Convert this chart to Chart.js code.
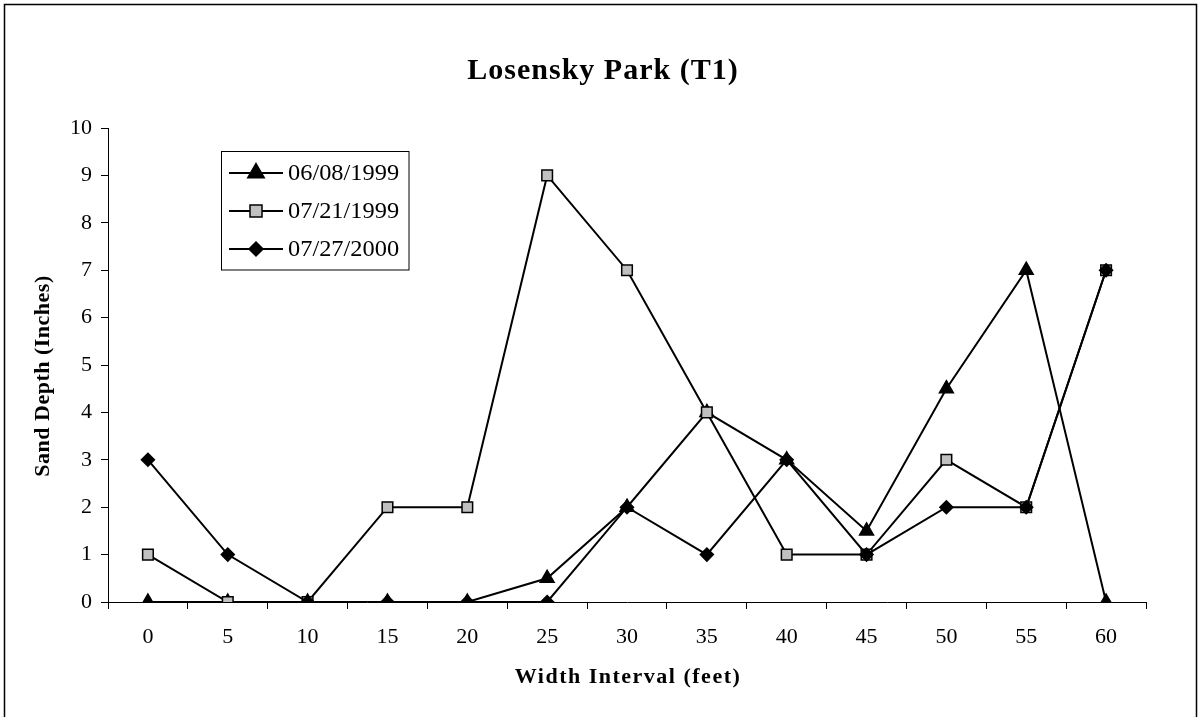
<!DOCTYPE html>
<html>
<head>
<meta charset="utf-8">
<script src="https://cdn.jsdelivr.net/npm/chart.js"></script>
<style>
  html, body { margin: 0; padding: 0; background: #fff; }
  #wrap { width: 1200px; height: 717px; }
</style>
</head>
<body>
<div id="wrap"><canvas id="chart" width="1200" height="717"></canvas></div>
<script>
// Данные с графика
const widths = ['0', '5', '10', '15', '20', '25', '30', '35', '40', '45', '50', '55', '60'];
const seriesNames = ['06/08/1999', '07/21/1999', '07/27/2000'];
const depth1 = [0, 0, 0, 0, 0, 0.5, 2, 4, 3, 1.5, 4.5, 7, 0];
const depth2 = [1, 0, 0, 2, 2, 9, 7, 4, 1, 1, 3, 2, 7];
const depth3 = [3, 1, 0, 0, 0, 0, 2, 1, 3, 1, 2, 2, 7];
const yMin = 0, yMax = 10, yStep = 1;

const titleText = 'Losensky Park (T1)';
const xTitle = 'Width Interval (feet)';
const yTitle = 'Sand Depth (Inches)';
const serif = '"Liberation Serif", "Times New Roman", serif';

const styles = [
  {pointStyle: 'triangle', radius: 8, legendRadius: 9.5, fill: '#000'},
  {pointStyle: 'rect', radius: 7.5, legendRadius: 8.5, fill: '#c0c0c0'},
  {pointStyle: 'rectRot', radius: 6.5, legendRadius: 7, fill: '#000'}
];

function makeSet(i, values) {
  const s = styles[i];
  return {
    label: seriesNames[i],
    data: values,
    borderColor: '#000',
    borderWidth: 2,
    pointStyle: s.pointStyle,
    pointRadius: s.radius,
    pointBackgroundColor: s.fill,
    pointBorderColor: '#000',
    pointBorderWidth: 1.5,
    tension: 0,
    order: 3 - i   // последний ряд сверху, как в Excel
  };
}

// Рамка, заголовки и легенда
const decor = {
  id: 'decor',
  afterDraw(chart) {
    const ctx = chart.ctx;
    ctx.save();
    ctx.strokeStyle = '#000';
    ctx.lineWidth = 1.5;
    ctx.strokeRect(4.5, 4.5, 1192, 730);   // нижний край уходит за кадр

    ctx.fillStyle = '#000';
    ctx.textAlign = 'center';
    ctx.textBaseline = 'middle';
    ctx.font = 'bold 30px ' + serif;
    ctx.letterSpacing = '1px';
    ctx.fillText(titleText, 603, 71);

    ctx.font = 'bold 22px ' + serif;
    ctx.letterSpacing = '1.5px';
    ctx.fillText(xTitle, 628, 677);

    ctx.letterSpacing = '0.5px';
    ctx.save();
    ctx.translate(43, 376);
    ctx.rotate(-Math.PI / 2);
    ctx.fillText(yTitle, 0, 0);
    ctx.restore();
    ctx.letterSpacing = '0px';

    // легенда
    ctx.lineWidth = 1;
    ctx.strokeRect(221.5, 151.5, 187.5, 118.5);
    ctx.font = '23px ' + serif;
    ctx.textAlign = 'left';
    chart.data.datasets.forEach((ds, i) => {
      const y = 173 + i * 38;
      ctx.strokeStyle = '#000';
      ctx.lineWidth = 2;
      ctx.beginPath();
      ctx.moveTo(229, y);
      ctx.lineTo(283, y);
      ctx.stroke();
      ctx.fillStyle = ds.pointBackgroundColor;
      ctx.lineWidth = ds.pointBorderWidth;
      Chart.helpers.drawPoint(ctx, {pointStyle: ds.pointStyle, radius: styles[i].legendRadius, rotation: 0, borderWidth: ds.pointBorderWidth}, 256, y);
      ctx.fillStyle = '#000';
      ctx.save();
      ctx.translate(288, y + 1);
      ctx.scale(1.06, 1);
      ctx.fillText(ds.label, 0, 0);
      ctx.restore();
    });
    ctx.restore();
  }
};

new Chart(document.getElementById('chart'), {
  type: 'line',
  data: {
    labels: widths,
    datasets: [makeSet(0, depth1), makeSet(1, depth2), makeSet(2, depth3)]
  },
  options: {
    responsive: false,
    animation: false,
    devicePixelRatio: 1,
    layout: {padding: {top: 128, right: 54, left: 0, bottom: 0}},
    plugins: {
      legend: {display: false},
      title: {display: false},
      tooltip: {enabled: false}
    },
    scales: {
      x: {
        type: 'category',
        offset: true,
        grid: {display: true, offset: true, drawOnChartArea: false, drawTicks: true, tickLength: 7, color: '#000'},
        border: {color: '#000', width: 1},
        ticks: {color: '#000', font: {family: serif, size: 22}, padding: 15, maxRotation: 0, autoSkip: false},
        afterFit: s => { s.height = 115; }
      },
      y: {
        min: yMin,
        max: yMax,
        grid: {display: true, drawOnChartArea: false, drawTicks: true, tickLength: 7, color: '#000'},
        border: {color: '#000', width: 1},
        ticks: {color: '#000', stepSize: yStep, font: {family: serif, size: 22}, padding: 9},
        afterFit: s => { s.width = 108; }
      }
    }
  },
  plugins: [decor]
});
</script>
</body>
</html>
